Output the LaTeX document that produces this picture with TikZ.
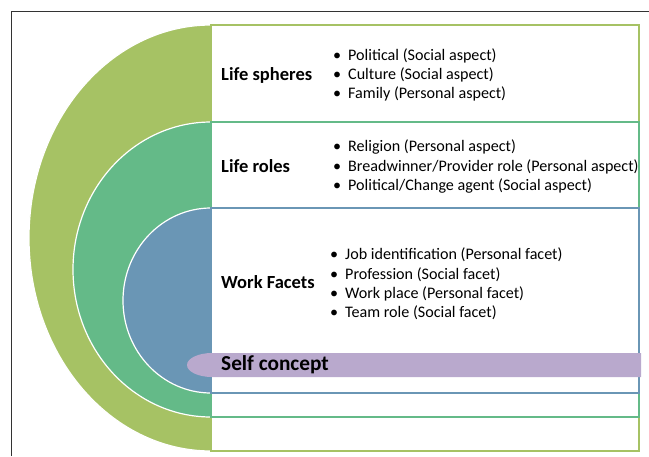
\documentclass[tikz,border=0pt]{standalone}
\usepackage{fontspec}
\setmainfont{Carlito}
\usepackage{tikz}

\definecolor{sphereGreen}{HTML}{A6C264}
\definecolor{roleGreen}{HTML}{64BA88}
\definecolor{facetBlue}{HTML}{6A96B5}
\definecolor{selfPurple}{HTML}{B9A9CD}

\tikzset{
  band/.style={line width=1.4pt},
  label/.style={anchor=west, inner sep=0pt, font=\fontsize{18.5}{20}\selectfont\bfseries},
  items/.style={anchor=west, inner sep=0pt, align=left, font=\fontsize{16.1}{19.2}\selectfont}
}

\begin{document}
\begin{tikzpicture}[x=1pt,y=1pt]
    \useasboundingbox (0,0) rectangle (649,-456);
    % frame
    \draw[black!80, line width=0.9pt] (11,-456) -- (11,-11) -- (649,-11);
    % half rings and their bands
    \foreach \top/\bot/\rx/\col in {25/451/182/sphereGreen, 122/417/138/roleGreen, 208/393/88/facetBlue}
    {
      \fill[\col] (211,-\top) arc[start angle=90, end angle=270, x radius=\rx, y radius={(\bot-\top)/2}] -- cycle;
      \draw[white, line width=1.2pt] (211,-\top) arc[start angle=90, end angle=270, x radius=\rx, y radius={(\bot-\top)/2}];
      \draw[\col, band] (211,-\top) rectangle (639,-\bot);
    }
    % self concept bar
    \fill[selfPurple] (641,-353) -- (212,-353) arc[start angle=90, end angle=270, x radius=25, y radius=12] -- (641,-377) -- cycle;

    \node[label] (spheres) at (221,-75) {Life spheres};
    \node[label] (roles) at (221,-166) {Life roles};
    \node[label] (facets) at (221,-282) {Work Facets};
    \node[label, font=\fontsize{21.3}{23}\selectfont\bfseries] (self) at (221,-365) {Self concept};

    \node[items] (spheresList) at (333,-75)
      {\textbullet\hspace{7pt}Political (Social aspect)\\
       \textbullet\hspace{7pt}Culture (Social aspect)\\
       \textbullet\hspace{7pt}Family (Personal aspect)};
    \node[items] (rolesList) at (333,-166.5)
      {\textbullet\hspace{7pt}Religion (Personal aspect)\\
       \textbullet\hspace{7pt}Breadwinner/Provider role (Personal aspect)\\
       \textbullet\hspace{7pt}Political/Change agent (Social aspect)};
    \node[items] (facetsList) at (330,-284)
      {\textbullet\hspace{7pt}Job identification (Personal facet)\\
       \textbullet\hspace{7pt}Profession (Social facet)\\
       \textbullet\hspace{7pt}Work place (Personal facet)\\
       \textbullet\hspace{7pt}Team role (Social facet)};
\end{tikzpicture}
\end{document}
